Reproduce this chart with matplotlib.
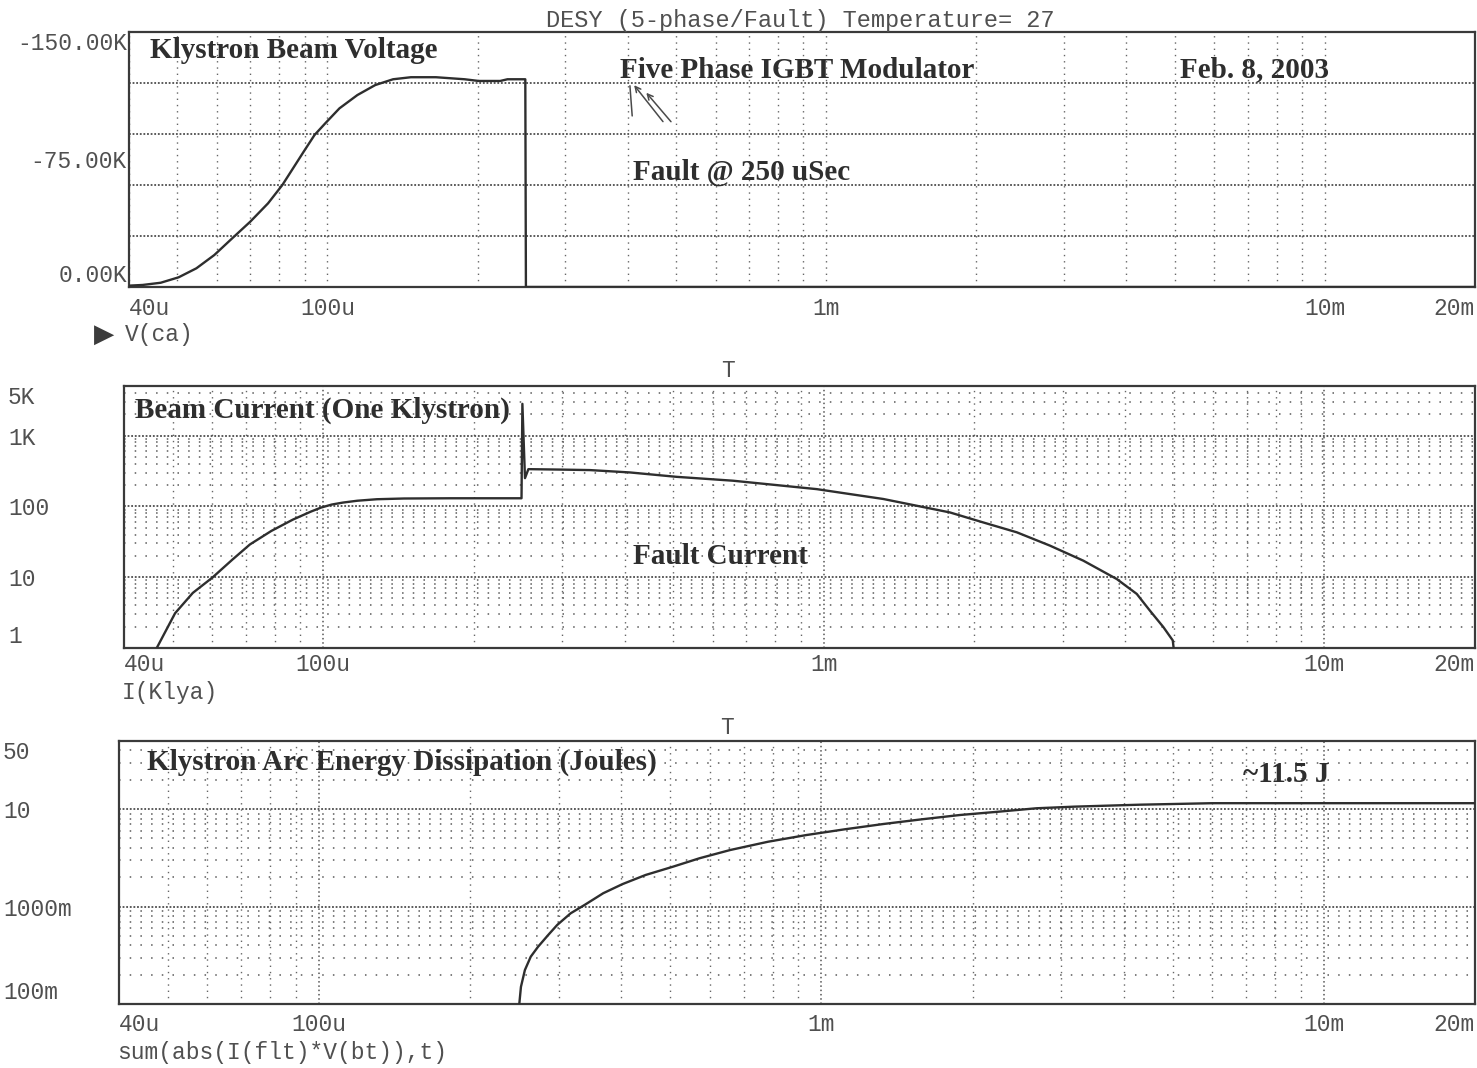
import matplotlib.pyplot as plt
from matplotlib.ticker import LogLocator, MultipleLocator, NullFormatter
import numpy as np

# PSpice transient run: 5-phase IGBT modulator, klystron arc at 250 us

# V(ca) - klystron cathode voltage (kV)
v_time = [40e-6, 42.6e-6, 46.3e-6, 50.3e-6, 54.6e-6, 59.3e-6, 64.4e-6, 70.0e-6,
          76.0e-6, 81.2e-6, 85.3e-6, 89.6e-6, 94.2e-6, 99.0e-6, 105.7e-6,
          114.8e-6, 124.7e-6, 135.4e-6, 147e-6, 165e-6, 188.4e-6, 201e-6,
          222e-6, 229.6e-6, 249.3e-6, 250e-6, 20e-3]
v_kv = [-0.8, -1.2, -2.5, -5.7, -11.0, -18.8, -28.6, -38.4, -49.2, -60.0,
        -69.8, -79.6, -89.4, -96.3, -105.1, -112.9, -118.8, -122.2, -123.4,
        -123.4, -122.2, -121.2, -121.2, -122.2, -122.2, 0.0, 0.0]

# I(Klya) - beam current of one klystron (A)
i_time = [46.5e-6, 50.6e-6, 54.9e-6, 60.1e-6, 65.8e-6, 71.4e-6, 78.8e-6,
          87e-6, 94.4e-6, 99e-6, 104e-6, 109.5e-6, 117e-6, 128e-6, 145e-6,
          180e-6, 249e-6, 250e-6, 253e-6, 257e-6, 300e-6, 341e-6, 410e-6,
          508e-6, 659e-6, 968e-6, 1.128e-3, 1.315e-3, 1.533e-3, 1.787e-3,
          2.08e-3, 2.43e-3, 2.83e-3, 3.30e-3, 3.85e-3, 4.22e-3, 4.48e-3,
          4.77e-3, 4.98e-3, 5.0e-3]
i_amp = [1.0, 3.1, 6.0, 9.9, 17.6, 29, 45, 65, 84, 96, 106, 113, 120, 126,
         129, 130, 130, 2800, 250, 335, 330, 325, 301, 261, 230, 175, 149, 127,
         102, 82, 59.4, 43, 27.9, 17.1, 9.4, 5.8, 3.39, 1.97, 1.28, 1.0]

# sum(abs(I(flt)*V(bt)),t) - arc energy (J)
e_time = [250e-6, 252.4e-6, 257e-6, 264e-6, 273e-6, 286e-6, 298e-6, 317e-6,
          338e-6, 368e-6, 402e-6, 447e-6, 506e-6, 572e-6, 658e-6, 784e-6,
          934e-6, 1.114e-3, 1.328e-3, 1.582e-3, 1.887e-3, 2.248e-3, 2.68e-3,
          3.19e-3, 3.6e-3, 4.3e-3, 6e-3, 20e-3]
e_joule = [0.09, 0.150, 0.223, 0.306, 0.387, 0.511, 0.647, 0.853, 1.04, 1.37,
           1.70, 2.11, 2.56, 3.13, 3.80, 4.63, 5.42, 6.21, 7.03, 7.85, 8.70,
           9.40, 10.2, 10.6, 10.8, 11.1, 11.5, 11.5]

x_ticks = [40e-6, 100e-6, 1e-3, 10e-3, 20e-3]
x_labels = ['40u', '100u', '1m', '10m', '20m']

W, H = 1477, 1068
MONO = 'Liberation Mono'
SERIF = 'Liberation Serif'
GREY = '#505050'
INK = '#2e2e2e'


def box(l, t, r, b):
    return [l / W, 1 - b / H, (r - l) / W, (b - t) / H]


def at(x, y):
    return x / W, 1 - y / H


def setup_x(ax, dense_major, label_pad):
    ax.set_xscale('log')
    ax.set_xlim(40e-6, 20e-3)
    ax.set_xticks(x_ticks)
    ax.set_xticklabels(x_labels)
    ax.xaxis.set_minor_locator(LogLocator(base=10, subs=np.arange(2, 10)))
    ax.xaxis.set_minor_formatter(NullFormatter())
    labs = ax.get_xticklabels()
    labs[0].set_ha('left')
    labs[-1].set_ha('right')
    for lab in labs:
        lab.set_family(MONO)
        lab.set_fontsize(16.5)
        lab.set_color(GREY)
    ax.tick_params(axis='both', which='both', length=0)
    ax.tick_params(axis='x', pad=label_pad)
    ax.grid(which='minor', axis='x', color='#666666', lw=1.0,
            linestyle=(0, (1, 3.5)))
    if dense_major:
        ax.grid(which='major', axis='x', color='#555555', lw=1.1,
                linestyle=(0, (1, 1.8)))
    else:
        ax.grid(which='major', axis='x', color='#666666', lw=1.0,
                linestyle=(0, (1, 3.5)))
    for s in ax.spines.values():
        s.set_color('#3a3a3a')
        s.set_linewidth(1.6)


def setup_log_y(ax, left_ax, lo, hi, ticks, labels, left_px):
    ax.set_yscale('log')
    ax.set_ylim(lo, hi)
    ax.set_yticks(ticks)
    ax.set_yticklabels(labels)
    ax.yaxis.set_minor_locator(LogLocator(base=10, subs=np.arange(2, 10)))
    ax.yaxis.set_minor_formatter(NullFormatter())
    ax.tick_params(axis='y', pad=(left_ax - left_px) * 0.72)
    labs = ax.get_yticklabels()
    for lab in labs:
        lab.set_ha('left')
        lab.set_family(MONO)
        lab.set_fontsize(16.5)
        lab.set_color(GREY)
    labs[0].set_va('bottom')
    labs[-1].set_va('top')
    ax.grid(which='major', axis='y', color='#4d4d4d', lw=1.3,
            linestyle=(0, (1, 1)))
    ax.grid(which='minor', axis='y', color='#5a5a5a', lw=1.1,
            linestyle=(0, (1, 6)))


fig = plt.figure(figsize=(W / 100, H / 100), dpi=100)

# ---- top: beam voltage ----
ax1 = fig.add_axes(box(129, 32, 1475, 287))
setup_x(ax1, dense_major=False, label_pad=7.5)
ax1.set_ylim(0, -150000)
ax1.set_yticks([0, -75000, -150000])
ax1.set_yticklabels(['0.00K', '-75.00K', '-150.00K'])
ax1.yaxis.set_minor_locator(MultipleLocator(30000))
ax1.tick_params(axis='y', pad=1.5)
ylabs = ax1.get_yticklabels()
for lab in ylabs:
    lab.set_family(MONO)
    lab.set_fontsize(16.5)
    lab.set_color(GREY)
ylabs[0].set_va('bottom')
ylabs[-1].set_va('top')
ax1.grid(which='minor', axis='y', color='#4d4d4d', lw=1.3,
         linestyle=(0, (1, 1)))
ax1.plot(v_time, np.array(v_kv) * 1000, color=INK, lw=1.7, zorder=5)

# ---- middle: beam current ----
ax2 = fig.add_axes(box(124, 386, 1475, 648))
setup_x(ax2, dense_major=True, label_pad=3.8)
setup_log_y(ax2, 124, 1, 5000, [1, 10, 100, 1000, 5000],
            ['1', '10', '100', '1K', '5K'], 8)
ax2.plot(i_time, i_amp, color=INK, lw=1.7, zorder=5)

# ---- bottom: arc energy ----
ax3 = fig.add_axes(box(119, 741, 1475, 1004))
setup_x(ax3, dense_major=True, label_pad=6.6)
setup_log_y(ax3, 119, 0.1, 50, [0.1, 1, 10, 50],
            ['100m', '1000m', '10', '50'], 3)
ax3.plot(e_time, e_joule, color=INK, lw=1.7, zorder=5)

# ---- probe / trace names ----
mono_kw = dict(family=MONO, fontsize=16.5, color=GREY)
fig.text(*at(800, 20), 'DESY (5-phase/Fault) Temperature= 27',
         ha='center', va='center', family=MONO, fontsize=17, color=GREY)
fig.text(*at(125, 335), 'V(ca)', ha='left', va='center', **mono_kw)
fig.text(*at(94, 335), '\u25B6', ha='left', va='center',
         family='DejaVu Sans', fontsize=19, color='#3c3c3c')
fig.text(*at(728, 370), 'T', ha='center', va='center', **mono_kw)
fig.text(*at(122, 693), 'I(Klya)', ha='left', va='center', **mono_kw)
fig.text(*at(727, 727), 'T', ha='center', va='center', **mono_kw)
fig.text(*at(117, 1053), 'sum(abs(I(flt)*V(bt)),t)', ha='left', va='center',
         **mono_kw)

# ---- notes written on the plot ----
note_kw = dict(family=SERIF, fontweight='bold', fontsize=21, color=INK,
               va='center', ha='left', zorder=6)
fig.text(*at(150, 50), 'Klystron Beam Voltage', **note_kw)
fig.text(*at(620, 70), 'Five Phase IGBT Modulator', **note_kw)
fig.text(*at(1180, 70), 'Feb. 8, 2003', **note_kw)
fig.text(*at(633, 172), 'Fault @ 250 uSec', **note_kw)
fig.text(*at(135, 410), 'Beam Current (One Klystron)', **note_kw)
fig.text(*at(633, 556), 'Fault Current', **note_kw)
fig.text(*at(147, 762), 'Klystron Arc Energy Dissipation (Joules)', **note_kw)
fig.text(*at(1243, 775), '~11.5 J', **note_kw)

# pen marks pointing at the title
pen = dict(arrowstyle='->', color='#4a4a4a', lw=1.1)
ax1.annotate('', xy=(0.374, 0.80), xytext=(0.398, 0.64),
             xycoords='axes fraction', arrowprops=pen)
ax1.annotate('', xy=(0.383, 0.77), xytext=(0.404, 0.64),
             xycoords='axes fraction', arrowprops=pen)
ax1.annotate('', xy=(0.372, 0.80), xytext=(0.374, 0.66),
             xycoords='axes fraction',
             arrowprops=dict(arrowstyle='-', color='#4a4a4a', lw=1.1))

fig.savefig('out.png', dpi=100, facecolor='white')
